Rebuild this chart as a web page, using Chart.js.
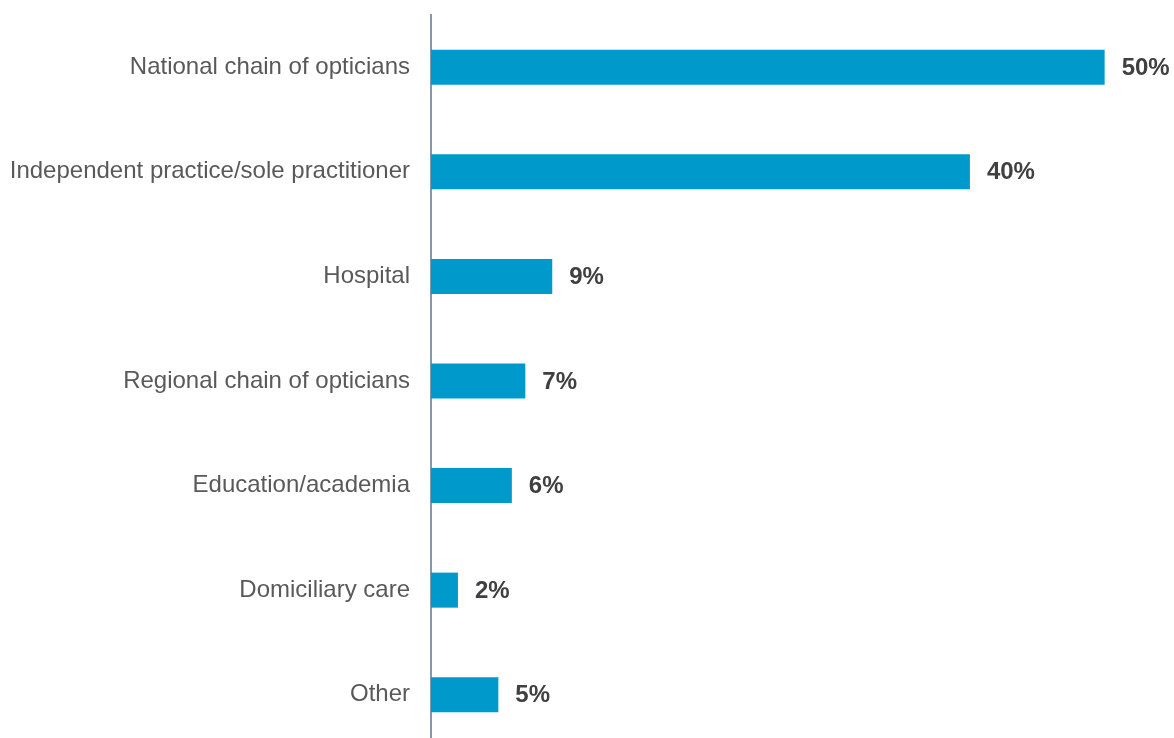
<!DOCTYPE html>
<html>
<head>
<meta charset="utf-8">
<script src="https://cdn.jsdelivr.net/npm/chart.js@4"></script>
<style>
  html, body { margin: 0; padding: 0; background: #fff; overflow: hidden; }
</style>
</head>
<body>
<canvas id="myChart" width="1174" height="747"></canvas>
<script>
const categories = [
    'National chain of opticians',
    'Independent practice/sole practitioner',
    'Hospital',
    'Regional chain of opticians',
    'Education/academia',
    'Domiciliary care',
    'Other'
];
const values = [50, 40, 9, 7, 6, 2, 5];

// value labels drawn just past the end of each bar
const valueLabels = {
    id: 'valueLabels',
    afterDatasetsDraw(chart) {
        const ctx = chart.ctx;
        const meta = chart.getDatasetMeta(0);
        ctx.save();
        ctx.font = 'bold 24px "Liberation Sans", Arial, sans-serif';
        ctx.fillStyle = '#404040';
        ctx.textAlign = 'left';
        ctx.textBaseline = 'middle';
        meta.data.forEach((bar, i) => {
            ctx.fillText(values[i] + '%', bar.x + 17, bar.y + 1);
        });
        ctx.restore();
    }
};

const ctx = document.getElementById('myChart').getContext('2d');
new Chart(ctx, {
    type: 'bar',
    data: {
        labels: categories,
        datasets: [{
            data: values,
            backgroundColor: '#0099cc',
            borderWidth: 0,
            categoryPercentage: 1,
            barPercentage: 0.335
        }]
    },
    options: {
        indexAxis: 'y',
        responsive: false,
        animation: false,
        layout: {
            padding: { top: 15, right: 2, bottom: 0, left: 0 }
        },
        plugins: {
            legend: { display: false },
            tooltip: { enabled: false }
        },
        scales: {
            x: {
                display: false,
                min: 0,
                max: 55
            },
            y: {
                afterFit(scale) {
                    scale.width = 431;
                    scale.paddingTop = 0;
                    scale.paddingBottom = 0;
                },
                grid: { display: false, drawTicks: false },
                border: { display: true, color: '#8497b0', width: 2 },
                ticks: {
                    padding: 21,
                    color: '#595959',
                    font: { family: '"Liberation Sans", Arial, sans-serif', size: 24 }
                }
            }
        }
    },
    plugins: [valueLabels]
});
</script>
</body>
</html>
